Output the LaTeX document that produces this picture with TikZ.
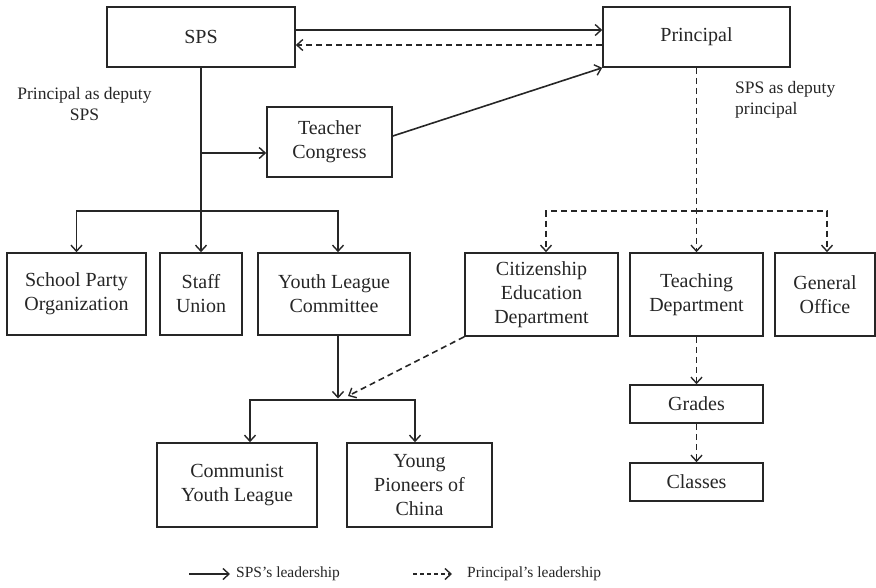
\documentclass[tikz,border=0pt]{standalone}
\usepackage{fontspec}
\setmainfont{Liberation Serif}
\usetikzlibrary{arrows.meta,calc}
\begin{document}
\begin{tikzpicture}[x=1pt,y=-1pt,
  ink/.style={draw=black!85},
  box/.style={ink, line width=1.6pt, inner sep=0pt, align=center,
    font=\fontsize{20}{24}\selectfont, text=black!85},
  sol/.style={ink, line width=1.6pt, -{Straight Barb[length=6pt,width=11pt,line width=1.4pt]}},
  dsh/.style={sol, dash pattern=on 6pt off 4pt},
  note/.style={font=\fontsize{17.5}{21}\selectfont, text=black!85, inner sep=0pt},
  leg/.style={font=\fontsize{15.5}{18}\selectfont, text=black!85, inner sep=0pt}]
\useasboundingbox (0,0) rectangle (876,587);

% boxes
\node[box, minimum width=188pt, minimum height=60pt] (sps) at (201,37) {SPS};
\node[box, minimum width=187pt, minimum height=60pt] (prin) at (696.5,37) {Principal};
\node[box, minimum width=125pt, minimum height=70pt] (tc) at (329.5,142) {Teacher\\Congress};
\node[box, minimum width=139pt, minimum height=82pt] (spo) at (76.5,294) {School Party\\Organization};
\node[box, minimum width=82pt, minimum height=82pt] (su) at (201,294) {Staff\\Union};
\node[box, minimum width=152pt, minimum height=82pt] (ylc) at (334,294) {Youth League\\Committee};
\node[box, minimum width=153pt, minimum height=83pt] (ced) at (541.5,294.5) {Citizenship\\Education\\Department};
\node[box, minimum width=133pt, minimum height=83pt] (td) at (696.5,294.5) {Teaching\\Department};
\node[box, minimum width=100pt, minimum height=83pt] (go) at (825,294.5) {General\\Office};
\node[box, minimum width=133pt, minimum height=38pt] (gr) at (696.5,404) {Grades};
\node[box, minimum width=133pt, minimum height=38pt] (cl) at (696.5,482) {Classes};
\node[box, minimum width=160pt, minimum height=84pt] (cyl) at (237,485) {Communist\\Youth League};
\node[box, minimum width=145pt, minimum height=84pt] (ypc) at (419.5,485) {Young\\Pioneers of\\China};

% notes
\node[note, align=center] (n1) at (84.5,104) {Principal as deputy\\SPS};
\node[note, align=left, anchor=west] (n2) at (735,100) {SPS as deputy\\principal};

% top connectors
\draw[sol] ([yshift=7pt]sps.east) -- ([yshift=7pt]prin.west);
\draw[dsh] ([yshift=-8pt]prin.west) -- ([yshift=-8pt]sps.east);

% SPS branch
\coordinate (bl) at (201,211);
\coordinate (tcj) at (201,153);
\draw[sol] (sps.south) -- (su.north);
\draw[sol] (bl) -| (spo.north);
\draw[sol] (bl) -| ([xshift=4pt]ylc.north);
\draw[sol] (tcj) -- (tc.west |- tcj);
\draw[sol] ([yshift=6pt]tc.east) -- (prin.south west);

% Principal branch
\coordinate (bd) at (696.5,211);
\draw[dsh] (prin.south) -- (td.north);
\draw[dsh] (bd) -| ([xshift=4.5pt]ced.north);
\draw[dsh] (bd) -| ([xshift=2pt]go.north);
\draw[dsh] (td.south) -- (gr.north);
\draw[dsh] (gr.south) -- (cl.north);

% Youth league branch
\coordinate (by) at (338,400);
\coordinate (byt) at (338,398.5);
\coordinate (bya) at (348,396);
\draw[sol] ([xshift=4pt]ylc.south) -- (byt);
\draw[sol] (by) -| ([xshift=13pt]cyl.north);
\draw[sol] (by) -| ([xshift=-4.5pt]ypc.north);
\draw[dsh] (ced.south west) -- (bya);

% legend
\coordinate (l1a) at (189,574);
\coordinate (l1b) at (230,574);
\coordinate (l2a) at (413,574);
\coordinate (l2b) at (452,574);
\draw[sol, line width=1.1pt] (l1a) -- (l1b);
\draw[dsh, line width=1.1pt, dash pattern=on 4pt off 3pt] (l2a) -- (l2b);
\node[leg, anchor=west] (t1) at (236,574) {SPS’s leadership};
\node[leg, anchor=west] (t2) at (467,574) {Principal’s leadership};
\end{tikzpicture}
\end{document}
